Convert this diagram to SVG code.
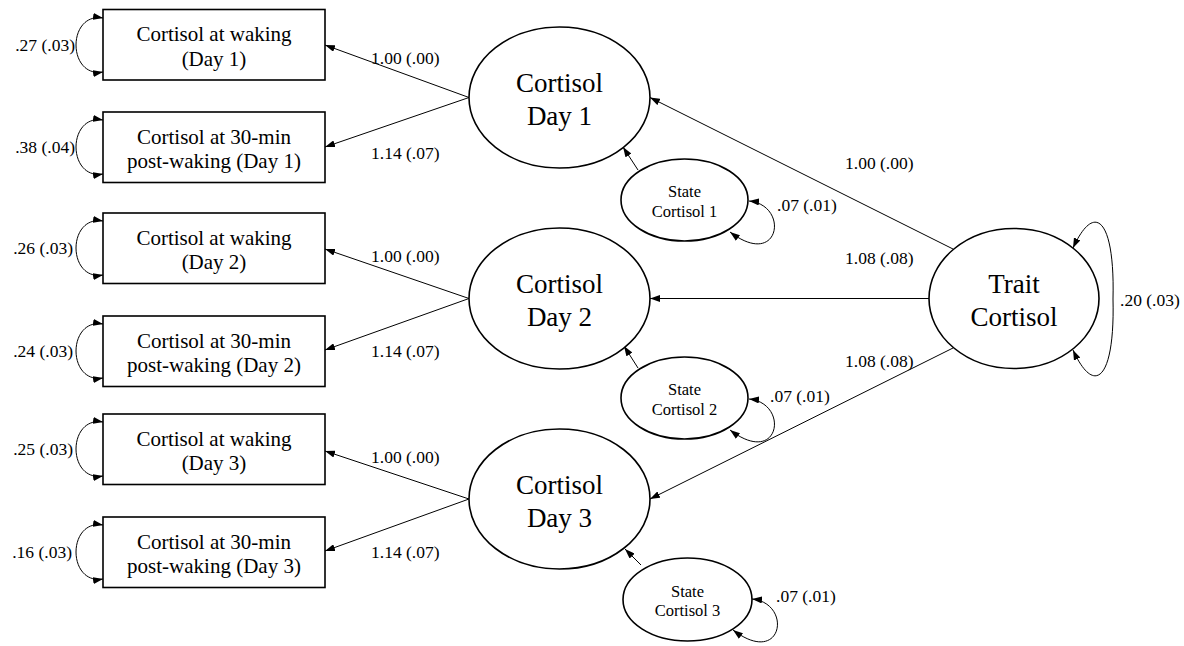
<svg xmlns="http://www.w3.org/2000/svg" width="1184" height="646" viewBox="0 0 1184 646" font-family="Liberation Serif, Times New Roman, DejaVu Serif, serif">
<defs>
<marker id="ah" viewBox="0 0 10 7" refX="10" refY="3.5" markerWidth="10" markerHeight="7" markerUnits="userSpaceOnUse" orient="auto-start-reverse">
<path d="M0,0 L10,3.5 L0,7 z" fill="#000"/>
</marker>
<style>
.box{fill:#fff;stroke:#000;stroke-width:1.6}
.ell{fill:#fff;stroke:#000;stroke-width:1.6}
.con{fill:none;stroke:#000;stroke-width:1;marker-end:url(#ah)}
.loop{fill:none;stroke:#000;stroke-width:1;marker-start:url(#ah);marker-end:url(#ah)}
text{font-family:'Liberation Serif',serif;fill:#000}
.bt{font-size:21px;text-anchor:middle}
.lt{font-size:27px;text-anchor:middle}
.st{font-size:16.5px;text-anchor:middle}
.lab{font-size:17.5px}
.labr{font-size:17.5px;text-anchor:end}
</style>
</defs>
<rect width="1184" height="646" fill="#fff"/>

<g id="connectors">
<path class="con" d="M469,97.5 L325,45"/>
<path class="con" d="M469,97.5 L325,147"/>
<path class="con" d="M469,298.5 L325,249"/>
<path class="con" d="M469,298.5 L325,350"/>
<path class="con" d="M469,499 L325,451"/>
<path class="con" d="M469,499 L325,551"/>
<path class="con" d="M953,249 L650,97.5"/>
<path class="con" d="M929,298.5 L650,298.5"/>
<path class="con" d="M953,348 L650,499"/>
<path class="con" d="M638,170 L623,147"/>
<path class="con" d="M638,368 L624,346"/>
<path class="con" d="M641,565 L625,549"/>
<path class="loop" d="M103,18 C67,12 67,78 103,72"/>
<path class="loop" d="M103,120 C67,114 67,180 103,174"/>
<path class="loop" d="M103,221 C67,215 67,281 103,275"/>
<path class="loop" d="M103,324 C67,318 67,384 103,378"/>
<path class="loop" d="M103,422 C67,416 67,482 103,476"/>
<path class="loop" d="M103,525 C67,519 67,585 103,579"/>
<path class="loop" d="M749,201 C790,205 780,270 730,232"/>
<path class="loop" d="M749,399 C790,403 780,468 730,430"/>
<path class="loop" d="M752,599 C793,603 783,668 733,630"/>
<path class="loop" d="M1073,248 C1095,200 1115,220 1113,299 C1115,378 1095,398 1073,350"/>
<text class="lab" x="371" y="64">1.00 (.00)</text>
<text class="lab" x="371" y="159">1.14 (.07)</text>
<text class="lab" x="371" y="262">1.00 (.00)</text>
<text class="lab" x="371" y="357">1.14 (.07)</text>
<text class="lab" x="371" y="463">1.00 (.00)</text>
<text class="lab" x="371" y="558">1.14 (.07)</text>
<text class="lab" x="845" y="169">1.00 (.00)</text>
<text class="lab" x="845" y="264">1.08 (.08)</text>
<text class="lab" x="845" y="367">1.08 (.08)</text>
<text class="lab" x="777" y="211">.07 (.01)</text>
<text class="lab" x="770" y="402">.07 (.01)</text>
<text class="lab" x="776" y="602">.07 (.01)</text>
<text class="lab" x="1120" y="306">.20 (.03)</text>
<text class="labr" x="75" y="51">.27 (.03)</text>
<text class="labr" x="75" y="153">.38 (.04)</text>
<text class="labr" x="73" y="254">.26 (.03)</text>
<text class="labr" x="73" y="357">.24 (.03)</text>
<text class="labr" x="73" y="455">.25 (.03)</text>
<text class="labr" x="72" y="558">.16 (.03)</text>
</g>

<g id="obs1"><rect class="box" x="103" y="9.5" width="222" height="70.5"/><text class="bt" x="214" y="41">Cortisol at waking</text><text class="bt" x="214" y="65.5">(Day 1)</text></g>
<g id="obs2"><rect class="box" x="103" y="112" width="222" height="70.5"/><text class="bt" x="214" y="143.5">Cortisol at 30-min</text><text class="bt" x="214" y="168">post-waking (Day 1)</text></g>
<g id="obs3"><rect class="box" x="103" y="213" width="222" height="70.5"/><text class="bt" x="214" y="244.5">Cortisol at waking</text><text class="bt" x="214" y="269">(Day 2)</text></g>
<g id="obs4"><rect class="box" x="103" y="316" width="222" height="70.5"/><text class="bt" x="214" y="347.5">Cortisol at 30-min</text><text class="bt" x="214" y="372">post-waking (Day 2)</text></g>
<g id="obs5"><rect class="box" x="103" y="414" width="222" height="70.5"/><text class="bt" x="214" y="445.5">Cortisol at waking</text><text class="bt" x="214" y="470">(Day 3)</text></g>
<g id="obs6"><rect class="box" x="103" y="517" width="222" height="70.5"/><text class="bt" x="214" y="548.5">Cortisol at 30-min</text><text class="bt" x="214" y="573">post-waking (Day 3)</text></g>

<g id="day1"><ellipse class="ell" cx="559.5" cy="97.5" rx="90.5" ry="70.5"/><text class="lt" x="559.5" y="92">Cortisol</text><text class="lt" x="559.5" y="125">Day 1</text></g>
<g id="day2"><ellipse class="ell" cx="559.5" cy="298.5" rx="90.5" ry="70.5"/><text class="lt" x="559.5" y="293">Cortisol</text><text class="lt" x="559.5" y="326">Day 2</text></g>
<g id="day3"><ellipse class="ell" cx="559.5" cy="499" rx="90.5" ry="70"/><text class="lt" x="559.5" y="494">Cortisol</text><text class="lt" x="559.5" y="527">Day 3</text></g>

<g id="state1"><ellipse class="ell" cx="684.5" cy="200" rx="63.5" ry="41"/><text class="st" x="684.5" y="197">State</text><text class="st" x="684.5" y="216.5">Cortisol 1</text></g>
<g id="state2"><ellipse class="ell" cx="684.5" cy="398" rx="63.5" ry="41"/><text class="st" x="684.5" y="395">State</text><text class="st" x="684.5" y="414.5">Cortisol 2</text></g>
<g id="state3"><ellipse class="ell" cx="687.5" cy="599.5" rx="64.5" ry="41.5"/><text class="st" x="687.5" y="596.5">State</text><text class="st" x="687.5" y="616">Cortisol 3</text></g>

<g id="trait"><ellipse class="ell" cx="1014" cy="298.5" rx="85" ry="70"/><text class="lt" x="1014" y="292.5">Trait</text><text class="lt" x="1014" y="326">Cortisol</text></g>
</svg>
